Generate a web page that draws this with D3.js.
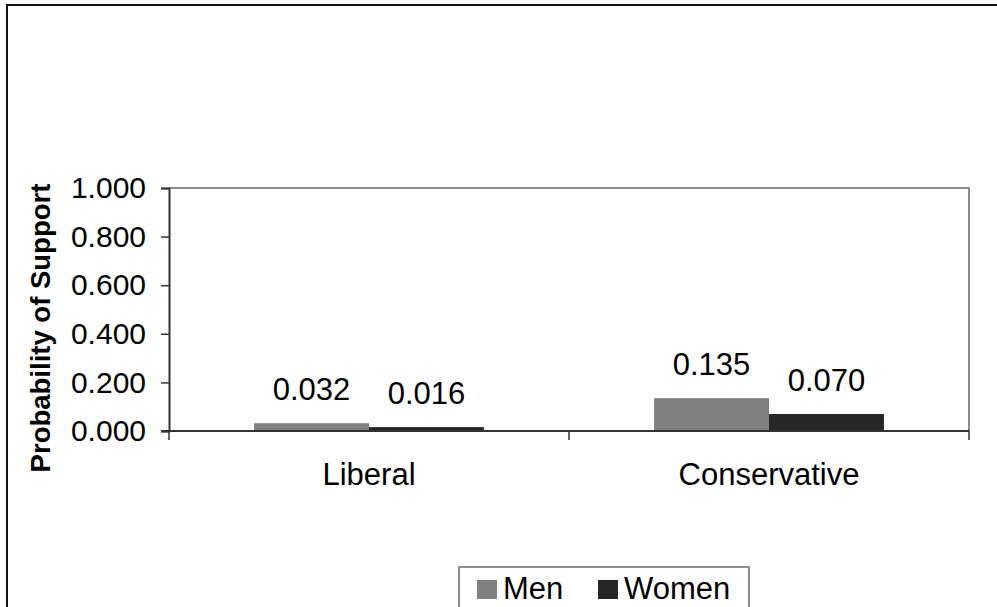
<!DOCTYPE html>
<html>
<head>
<meta charset="utf-8">
<script src="https://cdnjs.cloudflare.com/ajax/libs/d3/7.8.5/d3.min.js"></script>
<style>
  body { margin: 0; background: #fff; }
  text { font-family: "Liberation Sans", Arial, sans-serif; fill: #000; }
</style>
</head>
<body>
<svg id="chart" width="997" height="607"></svg>
<script>
  // chart data
  let categories = ["Liberal", "Conservative"]
  let seriesNames = ["Men", "Women"]
  let menValues = [0.032, 0.135]
  let womenValues = [0.016, 0.070]
  let yTicks = [0, 0.2, 0.4, 0.6, 0.8, 1.0]

  let colors = {Men: "#808080", Women: "#262626"}

  let margins = {top: 188, left: 169, right: 28, bottom: 176}
  let graphWidth = 997 - margins.left - margins.right
  let graphHeight = 607 - margins.top - margins.bottom

  let svg = d3.select("#chart")

  // outer chart border (only top and left show in frame)
  svg.append("path")
     .attr("d", "M7,607 L7,5 L997,5")
     .attr("fill", "none")
     .attr("stroke", "#111")
     .attr("stroke-width", 2)

  let g = svg.append("g")
             .attr("transform", `translate(${margins.left},${margins.top})`)

  let x = d3.scaleBand()
            .domain(categories)
            .range([0, graphWidth])
            .paddingInner(0)
            .paddingOuter(0)

  let inner = d3.scaleBand()
                .domain(seriesNames)
                .range([0, x.bandwidth()])
                .paddingOuter(0.74)
                .paddingInner(0)

  let y = d3.scaleLinear()
            .domain([0, 1])
            .range([graphHeight, 0])

  // plot area border (top and right, gray)
  g.append("path")
   .attr("d", `M0,0 L${graphWidth},0 L${graphWidth},${graphHeight}`)
   .attr("fill", "none")
   .attr("stroke", "#8c8c8c")
   .attr("stroke-width", 2)

  let rows = categories.map(function(c, i){
      return {cat: c, values: [{name: "Men", v: menValues[i]}, {name: "Women", v: womenValues[i]}]}
  })

  let groups = g.selectAll(".grp")
                .data(rows)
                .enter()
                .append("g")
                .attr("transform", function(d){ return `translate(${x(d.cat)},0)` })

  groups.selectAll("rect")
        .data(function(d){ return d.values })
        .enter()
        .append("rect")
        .attr("x", function(d){ return inner(d.name) })
        .attr("y", function(d){ return y(d.v) })
        .attr("width", inner.bandwidth())
        .attr("height", function(d){ return graphHeight - y(d.v) })
        .attr("fill", function(d){ return colors[d.name] })

  groups.selectAll(".lbl")
        .data(function(d){ return d.values })
        .enter()
        .append("text")
        .attr("x", function(d){ return inner(d.name) + inner.bandwidth() / 2 })
        .attr("y", function(d){ return y(d.v) - 23 })
        .attr("text-anchor", "middle")
        .style("font-size", "31px")
        .text(function(d){ return d3.format(".3f")(d.v) })

  // y axis
  let yAxis = g.append("g")
               .call(d3.axisLeft(y).tickValues(yTicks).tickFormat(d3.format(".3f")).tickSize(8).tickPadding(15))
  yAxis.select(".domain").attr("stroke", "#333").attr("stroke-width", 2)
  yAxis.selectAll(".tick line").attr("stroke", "#333").attr("stroke-width", 1.5)
  yAxis.selectAll("text").style("font-size", "30px").attr("fill", "#000")

  // x axis with ticks between categories
  let xAxis = g.append("g")
               .attr("transform", `translate(0,${graphHeight})`)
  xAxis.append("line")
       .attr("x1", -8).attr("x2", graphWidth)
       .attr("stroke", "#333").attr("stroke-width", 2)
  xAxis.selectAll(".xt")
       .data([0, x.bandwidth(), graphWidth])
       .enter()
       .append("line")
       .attr("x1", function(d){ return d }).attr("x2", function(d){ return d })
       .attr("y1", 0).attr("y2", 9)
       .attr("stroke", "#333").attr("stroke-width", 1.5)
  xAxis.selectAll(".xl")
       .data(categories)
       .enter()
       .append("text")
       .attr("x", function(d){ return x(d) + x.bandwidth() / 2 })
       .attr("y", 54)
       .attr("text-anchor", "middle")
       .style("font-size", "31px")
       .text(function(d){ return d })

  // y axis title
  svg.append("text")
     .attr("transform", "translate(50,328) rotate(-90)")
     .attr("text-anchor", "middle")
     .style("font-size", "27.5px")
     .style("font-weight", "bold")
     .text("Probability of Support")

  // legend
  let legend = svg.append("g").attr("transform", "translate(459,567)")
  legend.append("rect")
        .attr("width", 290).attr("height", 60)
        .attr("fill", "#fff")
        .attr("stroke", "#8c8c8c").attr("stroke-width", 2)
  let legX = [18, 139]
  let items = legend.selectAll(".li")
                    .data(seriesNames)
                    .enter()
                    .append("g")
                    .attr("transform", function(d, i){ return `translate(${legX[i]},0)` })
  items.append("rect")
       .attr("y", 13).attr("width", 20).attr("height", 19)
       .attr("fill", function(d){ return colors[d] })
  items.append("text")
       .attr("x", 26).attr("y", 32)
       .style("font-size", "31px")
       .text(function(d){ return d })
</script>
</body>
</html>
